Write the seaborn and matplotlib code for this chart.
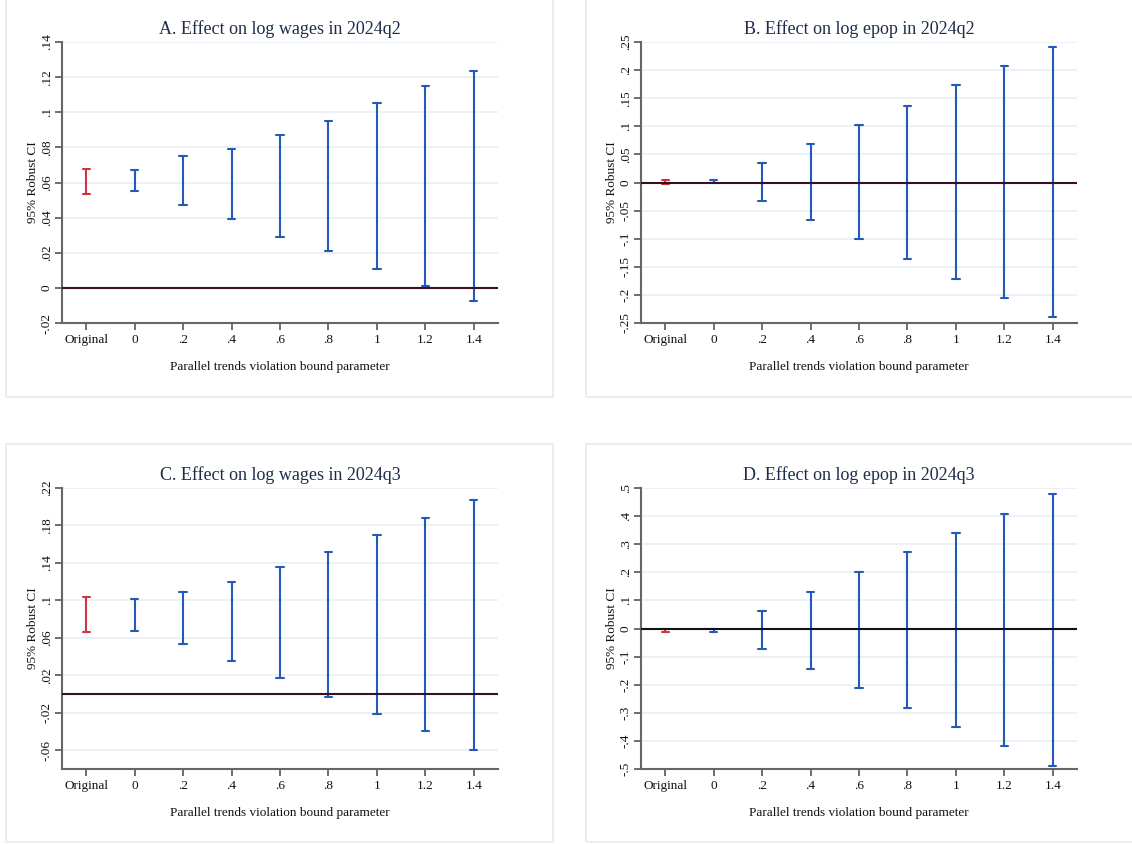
import numpy as np
import pandas as pd
import matplotlib
matplotlib.use("Agg")
import matplotlib.pyplot as plt
from matplotlib.patches import Rectangle
import seaborn as sns

# categories on the x axis
cats = ["Original", "0", ".2", ".4", ".6", ".8", "1", "1.2", "1.4"]

# 95% robust CI bounds
wages_q2_lo = [0.0533, 0.0550, 0.0470, 0.0390, 0.0289, 0.0209, 0.0108, 0.0008, -0.0072]
wages_q2_hi = [0.0679, 0.0670, 0.0751, 0.0789, 0.0871, 0.0951, 0.1050, 0.1151, 0.1233]
epop_q2_lo = [-0.0025, -0.0010, -0.0336, -0.0675, -0.1014, -0.1359, -0.1715, -0.2060, -0.2399]
epop_q2_hi = [0.0050, 0.0045, 0.0348, 0.0687, 0.1032, 0.1370, 0.1727, 0.2072, 0.2411]
wages_q3_lo = [0.0663, 0.0670, 0.0531, 0.0353, 0.0171, -0.0029, -0.0210, -0.0392, -0.0592]
wages_q3_hi = [0.1031, 0.1013, 0.1095, 0.1195, 0.1355, 0.1512, 0.1694, 0.1876, 0.2076]
epop_q3_lo = [-0.0137, -0.0110, -0.0731, -0.1433, -0.2111, -0.2812, -0.3502, -0.4191, -0.4881]
epop_q3_hi = [-0.0010, -0.0006, 0.0636, 0.1314, 0.2016, 0.2705, 0.3395, 0.4085, 0.4774]

titles = ["A. Effect on log wages in 2024q2", "B. Effect on log epop in 2024q2",
          "C. Effect on log wages in 2024q3", "D. Effect on log epop in 2024q3"]

# y ticks per panel
yt_a = [-0.02, 0, 0.02, 0.04, 0.06, 0.08, 0.1, 0.12, 0.14]
yl_a = ["-.02", "0", ".02", ".04", ".06", ".08", ".1", ".12", ".14"]
yt_b = [-0.25, -0.2, -0.15, -0.1, -0.05, 0, 0.05, 0.1, 0.15, 0.2, 0.25]
yl_b = ["-.25", "-.2", "-.15", "-.1", "-.05", "0", ".05", ".1", ".15", ".2", ".25"]
yt_c = [-0.06, -0.02, 0.02, 0.06, 0.1, 0.14, 0.18, 0.22]
yl_c = ["-.06", "-.02", ".02", ".06", ".1", ".14", ".18", ".22"]
yt_d = [-0.5, -0.4, -0.3, -0.2, -0.1, 0, 0.1, 0.2, 0.3, 0.4, 0.5]
yl_d = ["-.5", "-.4", "-.3", "-.2", "-.1", "0", ".1", ".2", ".3", ".4", ".5"]

ylims = [(-0.02, 0.14), (-0.25, 0.25), (-0.08, 0.22), (-0.5, 0.5)]

RED = "#d0343c"
BLUE = "#2458bb"
TITLE_COL = "#1e2c4c"

sns.set_style("ticks")
plt.rcParams["font.family"] = ["Liberation Serif", "DejaVu Serif"]


def long_frame(lo, hi):
    rows = []
    for c, a, b in zip(cats, lo, hi):
        g = "orig" if c == "Original" else "bound"
        rows.append({"cat": c, "val": a, "group": g})
        rows.append({"cat": c, "val": b, "group": g})
    return pd.DataFrame(rows)


def draw_panel(ax, lo, hi, title, yt, yl, ylim, zero_col):
    df = long_frame(lo, hi)
    for y in yt:
        ax.axhline(y, color="#e9f1f2", lw=1.3, zorder=0)
    sns.pointplot(data=df, x="cat", y="val", hue="group", order=cats,
                  hue_order=["orig", "bound"], palette={"orig": RED, "bound": BLUE},
                  errorbar=("pi", 100), capsize=0.15, dodge=False, legend=False,
                  linestyle="none", marker="", err_kws={"linewidth": 1.5}, ax=ax)
    ax.axhline(0, color=zero_col, lw=1.5, zorder=5)
    ax.set_xlim(-0.5, len(cats) - 0.5)
    ax.set_ylim(*ylim)
    ax.set_yticks(yt)
    ax.set_yticklabels(yl, rotation=90, va="center")
    ax.set_xticks(range(len(cats)))
    ax.set_xticklabels(cats, va="baseline")
    ax.tick_params(axis="both", labelsize=9.5, length=5, width=1.2,
                   color="#555555", labelcolor="#111111")
    ax.tick_params(axis="x", pad=9.4)
    ax.tick_params(axis="y", pad=1.5)
    for s in ["top", "right"]:
        ax.spines[s].set_visible(False)
    for s in ["left", "bottom"]:
        ax.spines[s].set_color("#666666")
        ax.spines[s].set_linewidth(1.5)
    ax.set_xlabel("Parallel trends violation bound parameter", fontsize=9.5,
                  labelpad=11, color="#111111")
    ax.set_ylabel("95% Robust CI", fontsize=9.5, labelpad=1.5, color="#111111")
    ax.set_title(title, fontsize=13, color=TITLE_COL, pad=6)


W, H = 1132, 844
fig = plt.figure(figsize=(W / 100, H / 100), dpi=100)

# light panel frames in pixel coords (x0, y_top, x1, y_bottom)
frames = [(6, -2, 553, 397), (586, -2, 1134, 397), (6, 444, 553, 842), (586, 444, 1134, 842)]
for x0, yt0, x1, yb0 in frames:
    fig.patches.append(Rectangle((x0 / W, 1 - yb0 / H), (x1 - x0) / W, (yb0 - yt0) / H,
                                 transform=fig.transFigure, fill=False,
                                 edgecolor="#e8eff1", lw=1.5))

# axes rectangles in pixels (left, top, right, bottom)
boxes = [(62, 42, 498, 323), (641, 42, 1077, 323), (62, 488, 498, 769), (641, 488, 1077, 769)]
data = [(wages_q2_lo, wages_q2_hi), (epop_q2_lo, epop_q2_hi),
        (wages_q3_lo, wages_q3_hi), (epop_q3_lo, epop_q3_hi)]
ticks = [(yt_a, yl_a), (yt_b, yl_b), (yt_c, yl_c), (yt_d, yl_d)]
zero_cols = ["#3a1020", "#3a1020", "#3a1020", "#111111"]

for i in range(4):
    l, t, r, b = boxes[i]
    ax = fig.add_axes([l / W, 1 - b / H, (r - l) / W, (b - t) / H])
    draw_panel(ax, data[i][0], data[i][1], titles[i], ticks[i][0], ticks[i][1],
               ylims[i], zero_cols[i])

fig.savefig("out.png", dpi=100)
